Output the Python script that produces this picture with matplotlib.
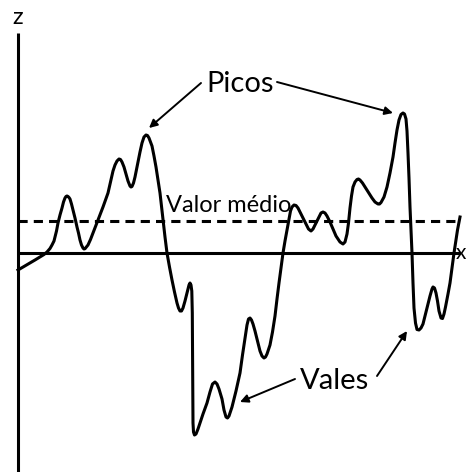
import matplotlib.pyplot as plt

# profile (x along the surface, z height), arbitrary units
profile_x = [0, 6, 12, 17, 22, 26, 29, 32, 34, 36, 37, 38.5, 40, 42, 44, 45.5, 47, 48, 49, 50,
             51, 52, 53.5, 55, 57, 59, 60.5, 62, 63.5, 65, 66, 67, 68, 70, 72.5, 75, 77.5, 80,
             85, 90, 92.5, 95, 97, 99, 101, 102.5, 104, 106, 108, 110, 112, 113, 114, 115.5,
             117, 119, 122, 124, 126, 128, 129.5, 131, 134, 136, 138, 140, 142, 145, 147, 149,
             151.5, 154, 156.5, 159, 160.5, 162, 163.5, 165, 167, 169, 171, 172, 173, 173.8,
             174.3, 174.7, 175, 175.5, 176.5, 178, 180, 182, 185, 189, 192, 194.5, 197, 199,
             201, 204, 206, 208, 209.5, 211, 214, 218, 222, 224.5, 227, 229, 230.5, 232,
             233.5, 235, 237, 240, 242, 244, 246, 247.5, 249, 252, 254.5, 257, 259, 261, 263,
             265, 267, 269, 271, 272.5, 274, 276, 278, 280, 282, 285, 288, 290.5, 293, 295,
             298, 301, 303, 305, 307, 309, 312, 315, 318, 320, 322, 325, 327, 329, 330.5, 332,
             333.5, 335, 337, 339, 340.5, 342, 344.5, 347, 350, 354, 357, 360, 361.5, 363, 366,
             369, 372, 375, 377, 379, 381, 383, 385, 386.5, 388, 389, 390, 391, 392, 393, 394,
             395, 396, 397.5, 399, 401, 403, 405, 409, 412, 414, 415, 416.5, 418, 419.5, 421,
             423, 424.5, 426, 427.5, 430, 432, 434, 436, 438, 439.5, 442]
profile_z = [-17, -13.5, -10, -7, -4, -1.5, 1, 4.5, 8, 12, 16, 22, 30, 38, 45, 51, 55, 56.5, 57, 56.5,
             55.5, 54, 49, 43, 35, 26, 20, 13, 8, 5, 4, 4.3, 5.5, 8, 13.5, 20, 26.5, 33,
             46, 60, 71, 82, 88, 92, 94, 93.5, 91, 86, 79, 72, 67, 66, 66.5, 70,
             76, 86, 101, 110, 116, 118, 117.5, 115, 107, 97, 86, 73, 60, 33, 16, 0,
             -14, -27, -39, -50, -55, -58, -58, -55, -48, -40, -32, -30, -32, -38,
             -60, -120, -170, -179, -182, -181, -176, -170, -161, -150, -139, -131, -129, -131,
             -136, -146, -157, -164, -165, -163, -154, -138, -120, -102, -85, -72, -66, -65,
             -67, -71, -78, -90, -98, -103, -105, -104, -101, -92, -79, -63, -46, -30, -15,
             0, 12, 23, 34, 42, 46, 48, 47.5, 45, 41, 35, 29, 24, 22, 24,
             30, 36, 40, 41, 40, 37, 31, 24, 17, 14, 11, 9, 11, 19, 30, 45,
             57, 66, 71, 73.5, 74, 73, 70, 66, 61, 55, 51, 49, 49, 50.5, 56,
             66, 80, 96, 110, 123, 133, 138.5, 140, 139, 134, 122, 100, 75, 46, 22, 0,
             -30, -55, -70, -76.5, -77, -75, -71, -55, -43, -36, -34, -35, -40, -48, -58,
             -65, -65.5, -61, -54, -41, -30, -15, 0, 13, 23, 36]

mean_z = 32
x_end = 442
z_top = 220

# labels: text, position, arrow tails/heads
picos_pos = (222, 161)
picos_tails = [(183, 170), (259, 171)]
picos_heads = [(131, 125), (375, 140)]
vales_pos = (317, -136)
vales_tails = [(277, -126), (359, -123)]
vales_heads = [(222, -149), (389, -78)]
medio_pos = (148, 41)

plt.rcParams['font.family'] = ['Lato', 'DejaVu Sans']

fig = plt.figure(figsize=(4.67, 4.72), dpi=100, facecolor='w')
ax = fig.add_axes([0, 0, 1, 1])
ax.set_xlim(-18, 449)
ax.set_ylim(-219, 253)
ax.axis('off')

# axes of the sketch
ax.plot([0, 0], [-219, z_top], color='black', lw=2.2, solid_capstyle='butt')
ax.plot([0, x_end], [0, 0], color='black', lw=2.2, solid_capstyle='butt')
ax.plot([0, x_end - 2], [mean_z, mean_z], color='black', lw=2.2, linestyle=(0, (3, 2)))

ax.plot(profile_x, profile_z, color='black', lw=2.2, solid_joinstyle='round')

ax.text(0, 236, 'z', ha='center', va='center', fontsize=17)
ax.text(448, 0, 'x', ha='right', va='center', fontsize=15)

ax.text(picos_pos[0], picos_pos[1], 'Picos', ha='center', va='baseline', fontsize=21)
ax.text(vales_pos[0], vales_pos[1], 'Vales', ha='center', va='baseline', fontsize=21)
ax.text(medio_pos[0], medio_pos[1], 'Valor médio', ha='left', va='baseline', fontsize=17)

arrow = dict(arrowstyle='-|>', mutation_scale=12, lw=1.4, color='black', shrinkA=0, shrinkB=0)
for t, h in zip(picos_tails + vales_tails, picos_heads + vales_heads):
    ax.annotate('', xy=h, xytext=t, arrowprops=arrow)

plt.savefig('out.png', dpi=100)
